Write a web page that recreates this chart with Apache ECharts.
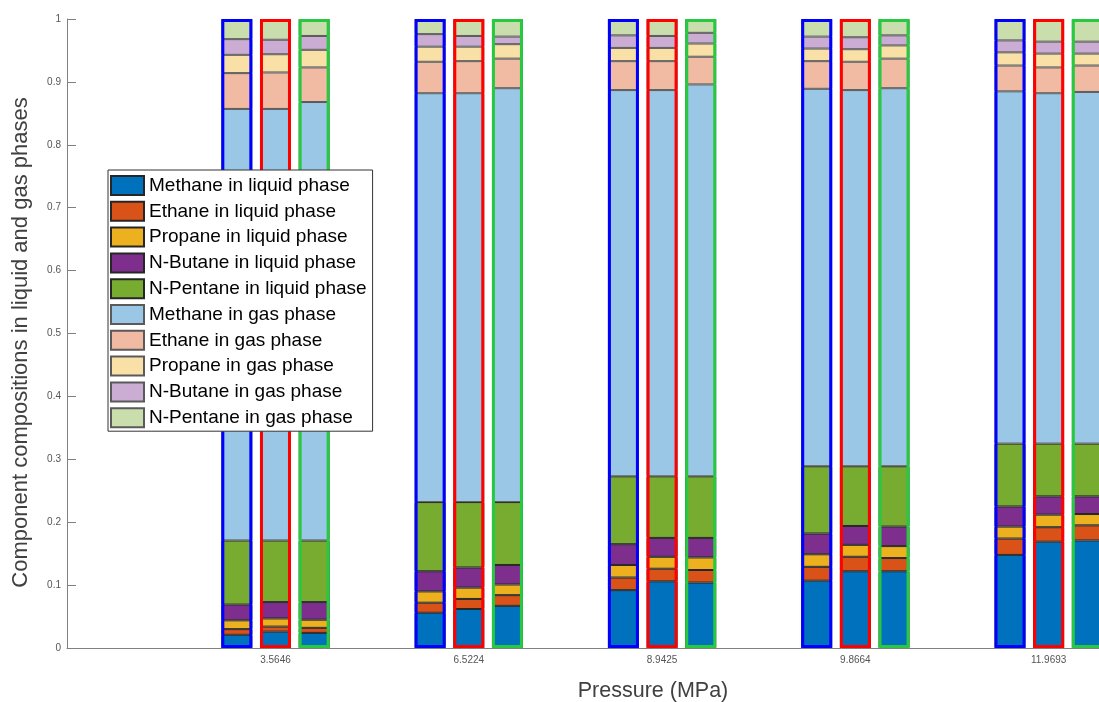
<!DOCTYPE html>
<html><head><meta charset="utf-8">
<script src="https://cdn.jsdelivr.net/npm/echarts@6/dist/echarts.min.js"></script>
<style>html,body{margin:0;padding:0;background:#fff}#c{width:1099px;height:702px}</style>
</head><body><div id="c"></div>
<script>
// Pressure groups (x tick labels)
const pressures = ['3.5646', '6.5224', '8.9425', '9.8664', '11.9693'];
// three bars per group (blue / red / green outlined)
const barsPerGroup = 3;
const outlineColors = ['#0000ff', '#ff0000', '#26c93f'];
const seriesNames = [
  'Methane in liquid phase', 'Ethane in liquid phase', 'Propane in liquid phase',
  'N-Butane in liquid phase', 'N-Pentane in liquid phase',
  'Methane in gas phase', 'Ethane in gas phase', 'Propane in gas phase',
  'N-Butane in gas phase', 'N-Pentane in gas phase'
];
const yTicks = [0, 0.1, 0.2, 0.3, 0.4, 0.5, 0.6, 0.7, 0.8, 0.9, 1];
// values per bar, order: g1 blue, g1 red, g1 green, g2 blue, ...
const methaneLiq = [0.021,0.026,0.024, 0.056,0.062,0.067, 0.092,0.106,0.104, 0.107,0.122,0.122, 0.148,0.169,0.171];
const ethaneLiq  = [0.009,0.008,0.008, 0.016,0.016,0.017, 0.020,0.020,0.020, 0.022,0.023,0.021, 0.026,0.023,0.024];
const propaneLiq = [0.014,0.013,0.013, 0.018,0.018,0.017, 0.020,0.019,0.020, 0.020,0.019,0.019, 0.019,0.020,0.018];
const butaneLiq  = [0.025,0.026,0.028, 0.032,0.032,0.031, 0.033,0.030,0.031, 0.033,0.030,0.031, 0.032,0.029,0.028];
const pentaneLiq = [0.102,0.098,0.098, 0.110,0.104,0.100, 0.108,0.098,0.098, 0.107,0.095,0.096, 0.100,0.084,0.084];
const methaneGas = [0.686,0.686,0.697, 0.650,0.650,0.658, 0.614,0.614,0.623, 0.600,0.598,0.601, 0.560,0.557,0.559];
const ethaneGas  = [0.057,0.058,0.055, 0.050,0.051,0.047, 0.046,0.046,0.044, 0.044,0.045,0.047, 0.041,0.041,0.042];
const propaneGas = [0.029,0.029,0.028, 0.024,0.023,0.023, 0.021,0.021,0.021, 0.020,0.020,0.021, 0.021,0.022,0.019];
const butaneGas  = [0.025,0.023,0.022, 0.020,0.017,0.012, 0.020,0.019,0.017, 0.019,0.019,0.016, 0.019,0.019,0.019];
const pentaneGas = [0.032,0.033,0.027, 0.024,0.027,0.028, 0.026,0.027,0.022, 0.028,0.029,0.026, 0.034,0.036,0.036];

const segValues = [methaneLiq, ethaneLiq, propaneLiq, butaneLiq, pentaneLiq,
                   methaneGas, ethaneGas, propaneGas, butaneGas, pentaneGas];
const segColors = ['#0072BD','#D95319','#EDB120','#7E2F8E','#77AC30',
                   '#99C7E5','#F0BAA3','#F8E0A6','#CBACD2','#C9DEAC'];

// position of bar j on the numeric x axis: group index (1..5) plus offset within group
function xPos(j) {
  const g = Math.floor(j / barsPerGroup) + 1;
  const k = (j % barsPerGroup) - 1;
  return g + k * 0.2;
}
const totals = methaneLiq.map((_, j) => segValues.reduce((s, arr) => s + arr[j], 0));

const font = 'Liberation Sans, Arial, sans-serif';
const BW = 31;

const series = segValues.map((arr, i) => ({
  type: 'bar',
  name: seriesNames[i],
  stack: 'total',
  xAxisIndex: 0,
  barWidth: BW,
  encode: { x: 1, y: 0 },
  data: arr.map((v, j) => [v, xPos(j)]),
  itemStyle: { color: segColors[i], borderColor: i < 5 ? '#262626' : '#5a5a5a', borderWidth: 1 },
  emphasis: { disabled: true },
  z: 2
}));
series.push({
  type: 'bar',
  name: 'outline',
  xAxisIndex: 1,
  barWidth: BW,
  encode: { x: 1, y: 0 },
  data: totals.map((t, j) => ({ value: [t, xPos(j)], itemStyle: { borderColor: outlineColors[j % barsPerGroup] } })),
  itemStyle: { color: 'rgba(0,0,0,0)', borderWidth: 3 },
  emphasis: { disabled: true },
  silent: true,
  z: 3
});

const xCommon = { type: 'value', min: -0.0786, max: 5.2604 };
const chart = echarts.init(document.getElementById('c'), null, { renderer: 'canvas' });
chart.setOption({
  animation: false,
  backgroundColor: '#fff',
  textStyle: { fontFamily: font },
  grid: { left: 67, right: 0, top: 19, bottom: 54, containLabel: false, outerBoundsMode: 'none' },
  xAxis: [
    Object.assign({}, xCommon, {
      axisLine: { show: true, onZero: false, lineStyle: { color: '#808080', width: 1 } },
      axisTick: { show: false },
      splitLine: { show: false },
      axisLabel: {
        customValues: pressures.map((_, i) => i + 1),
        formatter: v => pressures[Math.round(v) - 1] || '',
        fontSize: 10, color: '#555', margin: 7, fontFamily: font
      },
      name: 'Pressure (MPa)', nameLocation: 'middle', nameGap: 32,
      nameTextStyle: { fontSize: 21.5, color: '#404040', fontFamily: font, padding: [0, 0, 0, 140] }
    }),
    Object.assign({}, xCommon, { show: false })
  ],
  yAxis: {
    type: 'value', min: 0, max: 1, interval: 0.1,
    axisLine: { show: true, onZero: false, lineStyle: { color: '#808080', width: 1 } },
    axisTick: { show: true, inside: true, length: 9, lineStyle: { color: '#808080' } },
    splitLine: { show: false },
    axisLabel: { fontSize: 10, color: '#555', margin: 6, fontFamily: font,
      formatter: v => String(yTicks[Math.round(v * 10)]) },
    name: 'Component compositions in liquid and gas phases',
    nameLocation: 'middle', nameGap: 35,
    nameTextStyle: { fontSize: 22, color: '#404040', fontFamily: font, padding: [0, 18, 0, 0] }
  },
  legend: {
    data: seriesNames,
    orient: 'vertical', left: 108, top: 170,
    itemWidth: 33, itemHeight: 19, itemGap: 4.8,
    padding: [5, 6, 3, 2],
    backgroundColor: '#fff', borderColor: '#333', borderWidth: 1,
    icon: 'rect', selectedMode: false,
    textStyle: { fontSize: 19, color: '#000', fontFamily: font, lineHeight: 20 },
    z: 10
  },
  series: series
});
</script></body></html>
